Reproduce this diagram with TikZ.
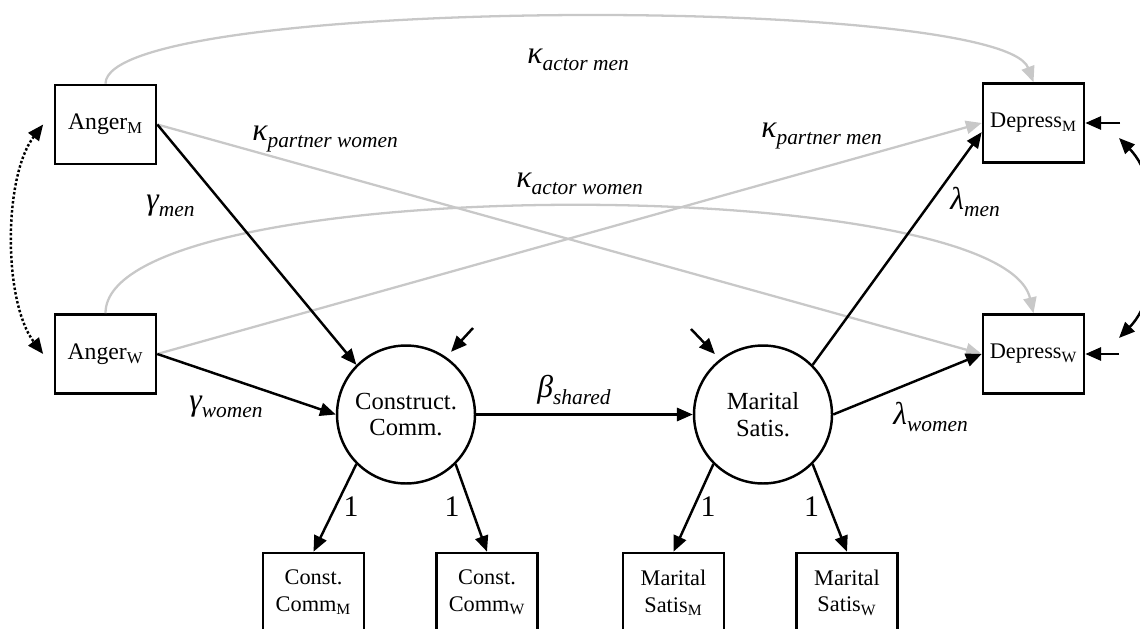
\documentclass[tikz,border=0pt]{standalone}
\usepackage{fontspec}
\setmainfont{Liberation Serif}
\usetikzlibrary{arrows.meta}
\definecolor{paleline}{RGB}{200,200,200}

% coefficient label: big greek letter with lowered italic subscript
\newcommand{\coef}[2]{{\itshape\fontsize{18}{18}\selectfont #1}\raisebox{-4.5pt}{\itshape\fontsize{12.2}{13}\selectfont #2}}

\tikzset{
  obsbox/.style={draw, line width=1.5pt, minimum width=2.02cm, minimum height=1.58cm, inner sep=0pt, align=center, font=\fontsize{13.5}{15.3}\selectfont},
  smallbox/.style={obsbox, font=\fontsize{12.7}{15.3}\selectfont},
  latent/.style={draw, circle, line width=1.4pt, minimum size=2.76cm, inner sep=0pt, align=center, font=\fontsize{14}{15.3}\selectfont},
  effect/.style={line width=1.4pt, -{Triangle[length=9pt,width=7.5pt]}},
  kappa/.style={line width=1.3pt, draw=paleline, -{Triangle[length=9pt,width=7.5pt]}},
  corr/.style={line width=1.4pt, {Triangle[length=9pt,width=7.5pt]}-{Triangle[length=9pt,width=7.5pt]}},
  coefl/.style={inner sep=0pt, anchor=base west},
  one/.style={inner sep=0pt, font=\fontsize{17}{17}\selectfont}
}

\begin{document}
\begin{tikzpicture}[x=0.02cm, y=-0.02cm]
    \useasboundingbox (0,0) rectangle (1140,629);

    % Observed predictors and outcomes
    \node[obsbox] (angm) at (105.5,124.5) {Anger\textsubscript{M}};
    \node[obsbox] (angw) at (105.5,354) {Anger\textsubscript{W}};
    \node[smallbox] (depm) at (1033.5,123) {Depress\textsubscript{M}};
    \node[smallbox] (depw) at (1033.5,354) {Depress\textsubscript{W}};

    % Latent mediators
    \node[latent] (cc) at (406,414.5) {Construct.\\Comm.};
    \node[latent] (ms) at (763,414.5) {Marital\\Satis.};

    % Indicators
    \node[smallbox] (ccm) at (313.5,592.5) {Const.\\Comm\textsubscript{M}};
    \node[smallbox] (ccw) at (487,592.5) {Const.\\Comm\textsubscript{W}};
    \node[smallbox] (msm) at (673.5,592.5) {Marital\\Satis\textsubscript{M}};
    \node[smallbox] (msw) at (847,592.5) {Marital\\Satis\textsubscript{W}};

    % Free ends of residual and covariance arrows
    \coordinate (ccres) at (473,328);
    \coordinate (msres) at (691,329);
    \coordinate (dmres) at (1120,123);
    \coordinate (dwres) at (1119,354);
    \coordinate (rcm) at (1119,138);
    \coordinate (rcw) at (1119,338);

    % Direct (actor / partner) paths
    \draw[kappa] (angm.north) .. controls +(0,-88) and +(-33,-88) .. (depm.north);
    \draw[kappa] (angw.north) .. controls +(0,-142) and +(-33,-142) .. (depw.north);
    \draw[kappa] (angm.east) -- (depw.west);
    \draw[kappa] (angw.east) -- (depm.west);

    % Mediated paths
    \draw[effect] (angm.east) -- (cc.north west);
    \draw[effect] (angw.east) -- (cc.west);
    \draw[effect] (cc.east) -- (ms.west);
    \draw[effect] (ms.north east) -- (depm.190);
    \draw[effect] (ms.east) -- (depw.west);

    % Loadings
    \draw[effect] (cc.south west) -- (ccm.north);
    \draw[effect] (cc.south east) -- (ccw.north);
    \draw[effect] (ms.south west) -- (msm.north);
    \draw[effect] (ms.south east) -- (msw.north);

    % Residuals
    \draw[effect, shorten >=4pt] (ccres) -- (cc.55);
    \draw[effect, shorten >=4pt] (msres) -- (ms.128);
    \draw[effect] (dmres) -- (depm.east);
    \draw[effect] (dwres) -- (depw.east);

    % Covariances
    \draw[corr, dash pattern=on 1.4pt off 1.2pt] ([xshift=-6pt]angm.west) .. controls +(-40,52) and +(-40,-52) .. ([xshift=-6pt]angw.west);
    \draw[corr] (rcm) .. controls +(46,47) and +(46,-47) .. (rcw);

    % Coefficient labels
    \node[coefl] (kam) at (527,63) {\coef{κ}{actor men}};
    \node[coefl] (kpw) at (252,140) {\coef{κ}{partner women}};
    \node[coefl] (kpm) at (761,137) {\coef{κ}{partner men}};
    \node[coefl] (kaw) at (516,187) {\coef{κ}{actor women}};
    \node[coefl] (gm) at (146,209) {\coef{γ}{men}};
    \node[coefl] (gw) at (189,410) {\coef{γ}{women}};
    \node[coefl] (bs) at (537,397) {\coef{β}{shared}};
    \node[coefl] (lm) at (950,209) {\coef{λ}{men}};
    \node[coefl] (lw) at (893,424) {\coef{λ}{women}};

    \node[one] (one1) at (351,507) {1};
    \node[one] (one2) at (452,507) {1};
    \node[one] (one3) at (708,507) {1};
    \node[one] (one4) at (811.5,507) {1};
\end{tikzpicture}
\end{document}
